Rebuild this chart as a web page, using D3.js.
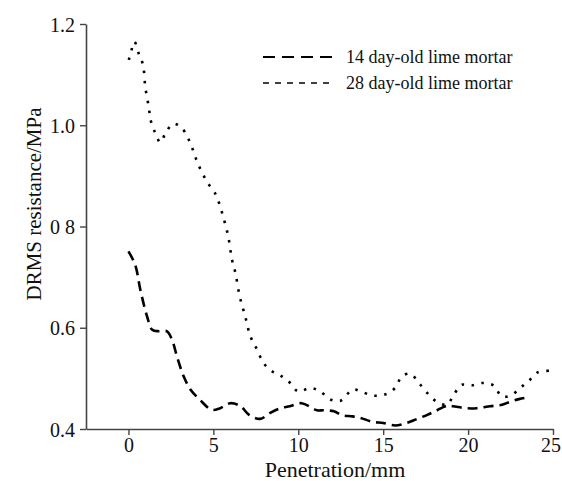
<!DOCTYPE html>
<html>
<head>
<meta charset="utf-8">
<script src="https://cdn.jsdelivr.net/npm/d3@7"></script>
<style>
  html, body { margin: 0; padding: 0; background: #fff; }
  svg { display: block; }
  svg text { font-family: "Liberation Serif", "Times New Roman", Times, serif; }
</style>
</head>
<body>
<svg id="chart"></svg>
<script>
// 14 day-old lime mortar (dashed)
const x14 = [0, 0.4, 0.7, 1.1, 1.4, 1.8, 2.27, 2.57, 2.86, 3.25, 3.65, 4.2, 4.9, 5.4, 6.0, 6.6, 7.1, 7.75, 8.35, 8.94,
    9.5, 10.2, 11.1, 11.5, 12.1, 12.6, 13.2, 13.65, 14.4, 15.0, 15.7, 16.4, 17.0, 17.6, 18.06, 18.75, 19.1, 19.9, 20.5,
    21.3, 22.0, 22.5, 23.0, 23.45];
const y14 = [0.751, 0.724, 0.675, 0.622, 0.596, 0.593, 0.593, 0.576, 0.543, 0.504, 0.478, 0.458, 0.438, 0.441, 0.451,
    0.445, 0.428, 0.420, 0.432, 0.441, 0.445, 0.451, 0.437, 0.437, 0.435, 0.427, 0.425, 0.422, 0.414, 0.412, 0.407,
    0.412, 0.420, 0.428, 0.435, 0.446, 0.445, 0.441, 0.441, 0.445, 0.448, 0.454, 0.459, 0.462];

// 28 day-old lime mortar (dotted)
const x28 = [0.02, 0.16, 0.35, 0.6, 0.86, 0.99, 1.19, 1.33, 1.59, 1.88, 2.18, 2.63, 3.1, 3.5, 3.8, 4.04, 4.33, 4.67,
    5.08, 5.37, 5.57, 5.76, 5.9, 6.1, 6.3, 6.55, 6.88, 7.18, 7.57, 7.96, 8.45, 8.94, 9.43, 10.0, 10.7, 11.3, 11.9,
    12.5, 13.2, 13.7, 14.4, 15.1, 15.7, 16.1, 16.6, 17.1, 17.6, 18.15, 18.75, 19.1, 19.6, 20.2, 20.9, 21.5, 22.0,
    22.6, 23.06, 23.55, 24.1, 24.8];
const y28 = [1.129, 1.146, 1.165, 1.142, 1.119, 1.076, 1.037, 1.007, 0.984, 0.966, 0.984, 1.003, 0.996, 0.975, 0.951,
    0.928, 0.907, 0.886, 0.867, 0.843, 0.820, 0.797, 0.776, 0.734, 0.708, 0.662, 0.622, 0.583, 0.557, 0.530, 0.514,
    0.506, 0.494, 0.474, 0.481, 0.474, 0.458, 0.456, 0.478, 0.474, 0.466, 0.468, 0.481, 0.504, 0.509, 0.491, 0.471,
    0.454, 0.448, 0.464, 0.487, 0.486, 0.491, 0.486, 0.464, 0.468, 0.481, 0.494, 0.512, 0.515];

const xTicks = [0, 5, 10, 15, 20, 25];
const yTicks = [0.4, 0.6, 0.8, 1.0, 1.2];
const yTickLabels = ['0.4', '0.6', '0 8', '1.0', '1.2'];
const seriesNames = ['14 day-old lime mortar', '28 day-old lime mortar'];

const width = 562;
const height = 481;
const margin = { top: 24, right: 9, bottom: 52, left: 86 };
const serif = '"Liberation Serif", "Times New Roman", Times, serif';

const svg = d3.select('#chart')
    .attr('width', width)
    .attr('height', height);

const x = d3.scaleLinear()
    .domain([-2.5, 25])
    .range([margin.left, width - margin.right]);

const y = d3.scaleLinear()
    .domain([0.4, 1.2])
    .range([height - margin.bottom, margin.top]);

// axes
const xAxis = svg.append('g')
    .attr('transform', `translate(0,${height - margin.bottom})`)
    .call(d3.axisBottom(x).tickValues(xTicks).tickSize(6).tickSizeOuter(0).tickPadding(3));

const yAxis = svg.append('g')
    .attr('transform', `translate(${margin.left},0)`)
    .call(d3.axisLeft(y).tickValues(yTicks).tickSize(6).tickSizeOuter(0).tickPadding(5)
        .tickFormat((d, i) => yTickLabels[i]));

[xAxis, yAxis].forEach(a => {
    a.attr('font-family', serif).attr('font-size', 20);
    a.select('.domain').attr('stroke', '#444').attr('stroke-width', 1.6);
    a.selectAll('.tick line').attr('stroke', '#444').attr('stroke-width', 1.4);
    a.selectAll('.tick text').attr('fill', '#111');
});
yAxis.selectAll('.tick text').attr('dy', '0.36em');
// last label sits against the right edge, as in the original
xAxis.selectAll('.tick text').filter(d => d === 25).attr('dx', -2.5);

// axis titles
svg.append('text')
    .attr('x', 335)
    .attr('y', 477)
    .attr('text-anchor', 'middle')
    .attr('font-family', serif)
    .attr('font-size', 22)
    .attr('fill', '#111')
    .text('Penetration/mm');

svg.append('text')
    .attr('transform', `translate(41,204) rotate(-90)`)
    .attr('text-anchor', 'middle')
    .attr('font-family', serif)
    .attr('font-size', 21)
    .attr('fill', '#111')
    .text('DRMS resistance/MPa');

// lines
const line = d3.line()
    .x(d => x(d[0]))
    .y(d => y(d[1]))
    .curve(d3.curveCatmullRom.alpha(0.5));

const data14 = x14.map((v, i) => [v, y14[i]]);
const data28 = x28.map((v, i) => [v, y28[i]]);

svg.append('path')
    .datum(data14)
    .attr('fill', 'none')
    .attr('stroke', '#000')
    .attr('stroke-width', 2.6)
    .attr('stroke-dasharray', '10 6')
    .attr('d', line);

svg.append('path')
    .datum(data28)
    .attr('fill', 'none')
    .attr('stroke', '#000')
    .attr('stroke-width', 2.6)
    .attr('stroke-dasharray', '2.5 7.5')
    .attr('d', line);

// legend
const legend = svg.append('g');
const legendDash = ['12 7', '6 6'];
const legendY = [57, 83];
const legendWidth = [2, 1.5];

seriesNames.forEach((name, i) => {
    legend.append('line')
        .attr('x1', 263)
        .attr('x2', 333)
        .attr('y1', legendY[i])
        .attr('y2', legendY[i])
        .attr('stroke', '#000')
        .attr('stroke-width', legendWidth[i])
        .attr('stroke-dasharray', legendDash[i]);
    legend.append('text')
        .attr('x', 346)
        .attr('y', legendY[i] + 6)
        .attr('font-family', serif)
        .attr('font-size', 18)
        .attr('fill', '#111')
        .text(name);
});
</script>
</body>
</html>
